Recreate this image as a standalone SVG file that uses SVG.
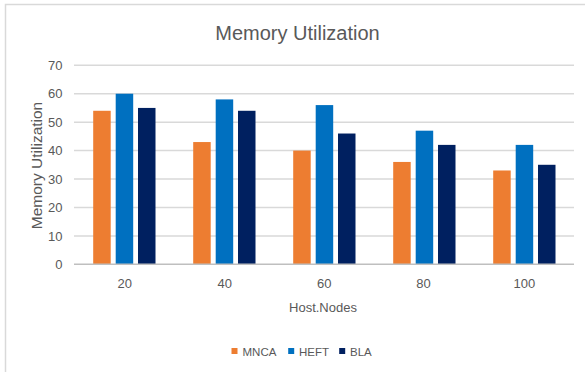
<svg xmlns="http://www.w3.org/2000/svg" width="585" height="372" viewBox="0 0 585 372">
<style>
text{font-family:"Liberation Sans",Arial,sans-serif;fill:#595959}
.grid{stroke:#D9D9D9;stroke-width:1.5}
.axis{stroke:#BFBFBF;stroke-width:1.5}
.tick{font-size:13px;text-anchor:end}
.cat{font-size:13px;text-anchor:middle}
.leg{font-size:11.5px}
.mnca{fill:#ED7D31}
.heft{fill:#0070C0}
.bla{fill:#002060}
</style>
<rect width="585" height="372" fill="#fff"/>
<rect x="5.5" y="4.5" width="620" height="420" fill="none" stroke="#D9D9D9" stroke-width="1.5"/>
<g id="title"><text x="297.5" y="40" font-size="20" text-anchor="middle">Memory Utilization</text></g>
<g id="gridlines">
<line class="grid" x1="74" y1="65.3" x2="574" y2="65.3"/>
<line class="grid" x1="74" y1="93.7" x2="574" y2="93.7"/>
<line class="grid" x1="74" y1="122.15" x2="574" y2="122.15"/>
<line class="grid" x1="74" y1="150.6" x2="574" y2="150.6"/>
<line class="grid" x1="74" y1="179" x2="574" y2="179"/>
<line class="grid" x1="74" y1="207.4" x2="574" y2="207.4"/>
<line class="grid" x1="74" y1="235.9" x2="574" y2="235.9"/>
</g>
<g id="y-ticks">
<text class="tick" x="62.5" y="70">70</text>
<text class="tick" x="62.5" y="98.4">60</text>
<text class="tick" x="62.5" y="126.85">50</text>
<text class="tick" x="62.5" y="155.3">40</text>
<text class="tick" x="62.5" y="183.7">30</text>
<text class="tick" x="62.5" y="212.1">20</text>
<text class="tick" x="62.5" y="240.6">10</text>
<text class="tick" x="62.5" y="269">0</text>
</g>
<g id="y-axis-title"><text x="0" y="0" font-size="15.5" text-anchor="middle" transform="translate(41.5 165.5) rotate(-90)">Memory Utilization</text></g>
<g id="bars">
<rect class="mnca" x="93.2" y="110.78" width="17.5" height="153.52"/>
<rect class="heft" x="115.7" y="93.72" width="17.5" height="170.58"/>
<rect class="bla" x="138" y="107.93" width="17.5" height="156.37"/>
<rect class="mnca" x="193.2" y="142.05" width="17.5" height="122.25"/>
<rect class="heft" x="215.7" y="99.41" width="17.5" height="164.89"/>
<rect class="bla" x="238" y="110.78" width="17.5" height="153.52"/>
<rect class="mnca" x="293.2" y="150.58" width="17.5" height="113.72"/>
<rect class="heft" x="315.7" y="105.09" width="17.5" height="159.21"/>
<rect class="bla" x="338" y="133.52" width="17.5" height="130.78"/>
<rect class="mnca" x="393.2" y="161.95" width="17.5" height="102.35"/>
<rect class="heft" x="415.7" y="130.68" width="17.5" height="133.62"/>
<rect class="bla" x="438" y="144.89" width="17.5" height="119.41"/>
<rect class="mnca" x="493.2" y="170.48" width="17.5" height="93.82"/>
<rect class="heft" x="515.7" y="144.89" width="17.5" height="119.41"/>
<rect class="bla" x="538" y="164.79" width="17.5" height="99.51"/>
</g>
<line class="axis" x1="74" y1="264.3" x2="574" y2="264.3"/>
<g id="x-labels">
<text class="cat" x="124.8" y="288.3">20</text>
<text class="cat" x="224.8" y="288.3">40</text>
<text class="cat" x="324.3" y="288.3">60</text>
<text class="cat" x="423.5" y="288.3">80</text>
<text class="cat" x="524.3" y="288.3">100</text>
</g>
<g id="x-axis-title"><text x="323" y="312.3" font-size="13" text-anchor="middle">Host.Nodes</text></g>
<g id="legend">
<rect class="mnca" x="231.5" y="348" width="6" height="6"/>
<text class="leg" x="242.5" y="355.7">MNCA</text>
<rect class="heft" x="288.2" y="348" width="6" height="6"/>
<text class="leg" x="299" y="355.7">HEFT</text>
<rect class="bla" x="339.2" y="348" width="6" height="6"/>
<text class="leg" x="350" y="355.7">BLA</text>
</g>
</svg>
